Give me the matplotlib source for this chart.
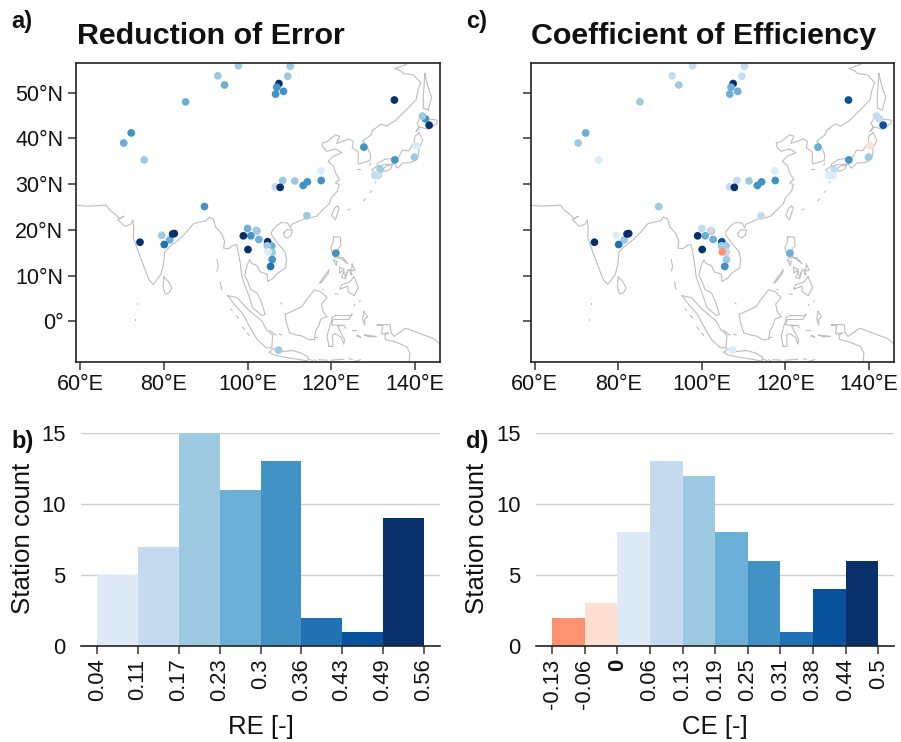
import matplotlib
matplotlib.use("Agg")
import matplotlib.pyplot as plt
import numpy as np

plt.rcParams["font.family"] = ["Liberation Sans", "DejaVu Sans"]
plt.rcParams["font.size"] = 15

W, H = 901, 742

# station positions (about 56 visible on the map)
lon = [97.8, 110.2, 92.9, 109.6, 94.5, 107.5, 107.0, 106.7, 108.6, 85.2, 135.1, 142.5, 141.8, 143.4,
       72.2, 70.4, 127.8, 140.3, 75.3, 135.2, 139.9, 131.7, 117.5, 130.4, 131.3, 108.4, 111.3, 114.3,
       113.3, 117.6, 106.6, 107.8, 89.7, 114.2, 100.0, 102.25, 102.1, 100.8, 99.0, 102.7, 104.8, 105.8,
       104.7, 100.1, 105.9, 104.9, 105.9, 105.5, 121.1, 107.4, 79.5, 81.4, 80.1, 82.1, 82.5, 74.3]
lat = [55.9, 55.8, 53.7, 53.6, 51.7, 52.0, 51.2, 49.7, 50.3, 48.0, 48.4, 44.3, 44.9, 42.9,
       41.2, 39.0, 38.1, 38.4, 35.3, 35.3, 35.9, 33.2, 32.9, 31.9, 31.9, 30.8, 30.7, 30.5,
       29.7, 30.8, 29.4, 29.3, 25.1, 23.1, 20.3, 19.75, 19.9, 18.7, 18.7, 17.9, 17.4, 16.5,
       16.5, 15.7, 15.1, 15.2, 13.5, 12.0, 14.9, -6.3, 18.8, 17.8, 16.8, 19.1, 19.2, 17.3]
re_vals = [.20, .20, .20, .20, .26, .52, .33, .33, .33, .26, .52, .33, .20, .52,
           .33, .26, .33, .07, .20, .33, .20, .20, .07, .14, .14, .20, .20, .33,
           .33, .33, .14, .52, .33, .20, .26, .20, .20, .33, .52, .26, .52, .26,
           .20, .52, .20, .07, .33, .39, .33, .20, .20, .26, .39, .52, .52, .52]
ce_vals = [.10, .10, .10, .10, .16, .47, .22, .22, .22, .16, .41, .10, .10, .41,
           .22, .16, .22, -.03, .03, .28, .16, .10, .03, .03, .03, .10, .16, .28,
           .28, .28, .10, .47, .16, .10, .10, -.10, .10, .22, .47, .22, .41, .16,
           .16, .47, .10, -.10, .16, .28, .22, .03, .03, .16, .34, .47, .47, .47]

re_labels = ["0.04", "0.11", "0.17", "0.23", "0.3", "0.36", "0.43", "0.49", "0.56"]
re_counts = [5, 7, 15, 11, 13, 2, 1, 9]
ce_labels = ["-0.13", "-0.06", "0", "0.06", "0.13", "0.19", "0.25", "0.31", "0.38", "0.44", "0.5"]
ce_counts = [2, 3, 8, 13, 12, 8, 6, 1, 4, 6]

re_colors = ["#deebf7", "#c6dbef", "#9ecae1", "#6baed6", "#4292c6", "#2171b5", "#08519c", "#08306b"]
ce_colors = ["#fc9272", "#fee0d2"] + re_colors

# coastlines, lon/lat
mainland = [(59, 25.4), (61.5, 25.2), (64, 25.3), (66.2, 25.4), (67, 24.4), (68.4, 23.4), (69.4, 22.5), (70.5, 23),
            (69, 22.2), (70.7, 20.8), (72, 21.2), (72.6, 22.2), (72.8, 20.3), (72.7, 18.3), (73.9, 15.2), (75.2, 12),
            (76.5, 9), (77.5, 8.1), (78.2, 8.9), (79.3, 10.3), (79.9, 12.5), (80.2, 15.2), (81.5, 16.4), (83.5, 17.8),
            (85.5, 19.6), (87, 21.3), (88.5, 21.7), (90.2, 22), (90.8, 22.8), (91.8, 22.4), (92.4, 20.6), (93.8, 19.2),
            (94.5, 17.5), (94.3, 16), (95.5, 15.9), (96.5, 16.6), (97.4, 16.8), (97.8, 15), (98.3, 12.5), (98.6, 10),
            (99.3, 8), (100.3, 5.6), (101.2, 3), (103.4, 1.3), (104.2, 1.5), (103.4, 4), (102.3, 6.2), (100.8, 6.9),
            (100, 8.8), (99.3, 10), (99.9, 12.3), (100.5, 13.5), (100.9, 12.7), (102.3, 12.2), (103, 10.8), (104.7, 10.3),
            (104.8, 8.7), (106.3, 9.5), (107, 10.4), (109.1, 11.7), (109.3, 13.5), (108.9, 15.3), (107.5, 16.7),
            (105.8, 18.8), (105.7, 19.5), (106.7, 20.7), (108, 21.6), (109.6, 21.5), (110.3, 20.4), (110.5, 21.2),
            (112, 21.8), (113.7, 22.5), (114.3, 22.4), (116.5, 23), (118, 24.4), (119.5, 25.7), (120, 27), (121.5, 28.5),
            (121.9, 29.9), (121, 30.3), (122, 31), (121, 32.5), (120.5, 34), (119.3, 35), (120.3, 36), (122.5, 36.9),
            (121, 37.7), (119, 37.2), (118, 38.1), (117.8, 39), (119, 39.3), (121, 40.8), (122, 40.5), (121.3, 38.9),
            (124.3, 39.9), (125.3, 39.3), (125, 38), (126.5, 37), (126.4, 35), (126.5, 34.4), (128, 34.8), (129.3, 35.2),
            (129.4, 36.5), (128.4, 38.5), (127.5, 39.4), (129.5, 40.8), (129.9, 41.8), (130.7, 42.3), (132, 43.2),
            (133.2, 42.7), (135.3, 43.9), (138, 46.3), (140.3, 48.5), (140.7, 50.5), (141.4, 52.2), (139.6, 53.9),
            (137.2, 54.2), (136.6, 54.8), (135.2, 55.3), (138, 56.2)]
sakhalin = [(142.4, 54.2), (143, 51.7), (144, 49), (143.2, 46.2), (142, 46.6), (142, 49), (142.4, 54.2)]
hokkaido = [(140.3, 41.5), (141, 42.5), (140.5, 43.3), (141.7, 45.3), (143, 44.3), (145.3, 44), (145.3, 43.3),
            (143.3, 42), (141.2, 42.5), (140.3, 41.5)]
honshu = [(141, 41.3), (141.9, 39.5), (141, 38), (140.9, 36.8), (140.7, 35.7), (139.8, 35), (138.8, 34.7), (137, 34.6),
          (136.8, 34.3), (135.8, 33.5), (135.1, 34.4), (133, 34.3), (131, 34), (131, 34.4), (132.7, 35.4), (135, 35.7),
          (136, 35.7), (137, 37.4), (138.5, 37.3), (139.8, 39), (140, 40.5), (141, 41.3)]
kyushu = [(131, 33.9), (131.8, 33), (131.3, 31.4), (130.5, 31.2), (130.2, 32.5), (129.7, 33.2), (131, 33.9)]
shikoku = [(134.6, 34.2), (134.2, 33.3), (133, 32.8), (132.3, 33.3), (133.3, 34), (134.6, 34.2)]
taiwan = [(121.5, 25.2), (121.9, 24.8), (121, 22.2), (120.1, 23.2), (120.8, 24.8), (121.5, 25.2)]
hainan = [(108.7, 19.3), (109.3, 20), (110.7, 20), (110.4, 18.8), (109.5, 18.2), (108.7, 18.7), (108.7, 19.3)]
sri_lanka = [(80, 9.7), (81.2, 8.6), (81.9, 7.3), (81.2, 6.2), (80.3, 6), (79.8, 7.5), (80, 9.7)]
luzon = [(120.6, 18.5), (122.2, 18.4), (122.3, 16.5), (121.6, 15.8), (121.7, 14.2), (124, 12.6), (122.8, 13.9),
         (120.9, 13.8), (120.2, 15), (119.9, 16.2), (120.4, 17), (120.6, 18.5)]
mindoro = [(120.5, 13.4), (121.4, 13.1), (121.2, 12.2), (120.5, 13.4)]
palawan = [(117.2, 8.4), (119.5, 11.3), (119.2, 10.3), (117.5, 8.4)]
samar = [(125, 12.5), (125.7, 11.2), (124.9, 11), (125, 12.5)]
leyte = [(124.5, 11.3), (125, 10.2), (124.6, 10.2), (124.5, 11.3)]
panay = [(122, 11.8), (123.1, 11.4), (122, 10.5), (122, 11.8)]
negros = [(123, 10.9), (123.5, 9.3), (122.5, 9.6), (123, 10.9)]
cebu = [(124, 11.2), (123.4, 9.6), (124, 11.2)]
mindanao = [(125.4, 9.8), (126.5, 7.5), (125.5, 5.6), (124, 6.5), (124, 7.7), (122, 7), (122.5, 8), (124.5, 8.6), (125.4, 9.8)]
borneo = [(109, 1.5), (111.3, 2.5), (113, 3.2), (114, 4.6), (116, 6.9), (117.5, 6.5), (119, 5.2), (117.7, 3.8), (118, 2.2),
          (119, 1), (117.5, 0.5), (117, -1), (116.3, -2), (116, -4), (114.6, -4), (113, -3.2), (111.7, -3), (110, -2.5),
          (109.2, 0), (109, 1.5)]
sumatra = [(95.3, 5.6), (97.5, 5.2), (100, 2.7), (103.5, 0), (104.5, -1.8), (106, -3), (105.8, -5.8), (104.5, -5.8),
           (102.3, -4), (100.4, -1), (98.8, 1.7), (97, 3.5), (95.3, 5.6)]
java = [(105.2, -6.8), (106.1, -6), (108.5, -6.6), (110.8, -6.4), (112.7, -6.9), (114.5, -7.8), (114.4, -8.7), (112, -8.3),
        (108.5, -7.8), (106.5, -7.4), (105.2, -6.8)]
sulawesi = [(119.5, -5.5), (120.4, -5.5), (120.3, -3), (121, -2.7), (122.4, -3.5), (123, -5), (123.2, -4), (122, -2),
            (121.5, -1), (123.3, -0.9), (120.2, -0.8), (120.1, 0.7), (121, 1.3), (124.5, 1.2), (125, 1.6), (124.2, 0.4),
            (120.5, 0.4), (119.8, -0.5), (119, -3.3), (119.5, -5.5)]
halmahera = [(127.8, 2.1), (128.7, 1), (128, 0.5), (128, -0.8), (127.5, 0.5), (127.8, 2.1)]
seram = [(128, -3), (130.8, -3.3), (129, -3.4), (128, -3)]
buru = [(126.2, -3.2), (127, -3.5), (126.5, -3.1), (126.2, -3.2)]
new_guinea = [(131, -0.8), (133, -0.7), (134.1, -0.8), (134.3, -2.5), (135, -3.3), (137.8, -1.5), (141, -2.6), (144.5, -3.8),
              (146, -5), (147, -6), (147, -10), (138.5, -10), (138.8, -7), (138, -5.5), (135, -4.4), (133, -4), (132.8, -3),
              (133.8, -2.5), (132, -2.8), (132.3, -1), (131, -0.8)]
bali_flores = [[(114.5, -8.2), (115.6, -8.6)], [(116, -8.4), (116.7, -8.8)], [(117, -8.4), (119, -8.5)], [(120, -8.5), (123, -8.3)],
               [(124.3, -8.2), (125, -8.3)], [(125, -8.9), (127, -8.4)]]
small_isles = [[(92.7, 13.5), (93, 12), (92.7, 11)], [(93.5, 8.5), (93.8, 7)], [(96, 2.7), (96.3, 2.4)], [(97.3, 1.3), (97.8, 0.7)],
               [(98.8, -1.2), (99.3, -1.8)], [(100, -2.6), (100.4, -3.1)], [(127.8, 26.4), (128.2, 26.8)], [(129.3, 28.2), (129.6, 28.5)],
               [(130.5, 30.3), (130.7, 30.5)], [(124, 24.4), (124.4, 24.5)], [(126.2, 33.4), (126.8, 33.4)], [(129.2, 34.2), (129.4, 34.6)],
               [(105.3, -2), (106.7, -3)], [(107.6, -2.8), (108.2, -3)], [(108, 4), (108.2, 3.8)], [(123.2, -1.3), (123.5, -1.5)],
               [(125, -1.9), (125.9, -1.9)], [(125.5, 3.5), (125.6, 3.7)], [(126.8, 4.3), (126.9, 4.5)], [(73.5, 4), (73.5, 3.8)],
               [(73, 0.5), (73, 0.3)], [(116.8, -3.5), (116.2, -3.6)], [(121, 6), (121.6, 5.9)], [(118, 7), (118.3, 6.9)]]
coasts = [mainland, sakhalin, hokkaido, honshu, kyushu, shikoku, taiwan, hainan, sri_lanka, luzon, mindoro, palawan, samar,
          leyte, panay, negros, cebu, mindanao, borneo, sumatra, java, sulawesi, halmahera, seram, buru, new_guinea] + bali_flores + small_isles


def px_axes(left, top, right, bottom):
    return fig.add_axes([left / W, 1 - bottom / H, (right - left) / W, (bottom - top) / H])


def draw_map(ax, values, edges, colors, ylabels=True):
    for line in coasts:
        xy = np.array(line)
        ax.plot(xy[:, 0], xy[:, 1], color="#bdbdbd", lw=0.8, zorder=1)
    idx = np.clip(np.digitize(values, edges) - 1, 0, len(colors) - 1)
    ax.scatter(lon, lat, s=31, c=[colors[i] for i in idx], linewidths=0, zorder=2)
    ax.set_xlim(59, 146)
    ax.set_ylim(-8.9, 56.5)
    ax.set_xticks([60, 80, 100, 120, 140])
    ax.set_xticklabels(["60°E", "80°E", "100°E", "120°E", "140°E"])
    ax.set_yticks([0, 10, 20, 30, 40, 50])
    ax.set_yticklabels(["0°", "10°N", "20°N", "30°N", "40°N", "50°N"] if ylabels else [])
    ax.tick_params(length=6, width=1.1, color="#333333", labelsize=15.5, pad=3, labelcolor="#111111")
    for s in ax.spines.values():
        s.set_linewidth(1.2)
        s.set_color("#222222")


def draw_hist(ax, counts, labels, colors, margin):
    x = np.arange(len(counts))
    ax.bar(x, counts, width=1, align="edge", color=colors, zorder=2)
    ax.set_xlim(-margin, len(counts) + margin)
    ax.set_ylim(0, 15)
    ax.set_yticks([0, 5, 10, 15])
    ax.set_xticks(np.arange(len(labels)))
    ax.set_xticklabels(labels, rotation=90)
    ax.grid(axis="y", color="#cccccc", lw=1, zorder=0)
    ax.set_axisbelow(True)
    for name in ["left", "right", "top"]:
        ax.spines[name].set_visible(False)
    ax.spines["bottom"].set_color("#222222")
    ax.spines["bottom"].set_linewidth(1.2)
    ax.tick_params(axis="x", length=6, width=1.1, color="#333333", labelsize=15.8, pad=3, labelcolor="#111111")
    ax.tick_params(axis="y", length=0, labelsize=15.8, pad=11, labelcolor="#111111")


fig = plt.figure(figsize=(W / 100, H / 100), dpi=100)

ax_a = px_axes(76, 63, 440, 362)
ax_c = px_axes(530.5, 63, 894, 362)
ax_b = px_axes(81, 433, 440, 646)
ax_d = px_axes(536, 433, 894.5, 646)

re_edges = [float(v) for v in re_labels]
ce_edges = [float(v) for v in ce_labels]
draw_map(ax_a, re_vals, re_edges, re_colors)
draw_map(ax_c, ce_vals, ce_edges, ce_colors, ylabels=False)
draw_hist(ax_b, re_counts, re_labels, re_colors, 0.4)
draw_hist(ax_d, ce_counts, ce_labels, ce_colors, 0.5)

ax_d.get_xticklabels()[2].set_fontweight("bold")

for text, x in [("RE [-]", 261), ("CE [-]", 714.5)]:
    fig.text(x / W, 1 - 727 / H, text, fontsize=18.5, ha="center", va="center", color="#111111")
for x in [23, 477]:
    fig.text(x / W, 1 - 538 / H, "Station count", fontsize=18.6, rotation=90, ha="center", va="center", color="#111111")

fig.text(77 / W, 1 - 44 / H, "Reduction of Error", fontsize=21.9, fontweight="bold", color="#111111")
fig.text(531 / W, 1 - 44 / H, "Coefficient of Efficiency", fontsize=21.9, fontweight="bold", color="#111111")
for label, x, y in [("a)", 11, 28), ("c)", 466, 28), ("b)", 11, 448), ("d)", 466, 448)]:
    fig.text(x / W, 1 - y / H, label, fontsize=17, fontweight="bold", color="#111111")

fig.savefig("out.png", dpi=100)
